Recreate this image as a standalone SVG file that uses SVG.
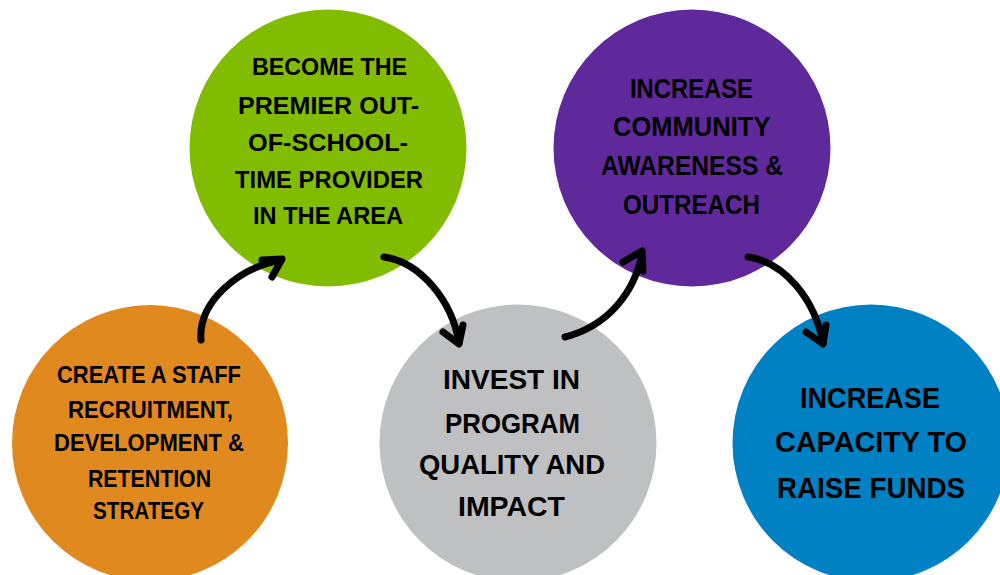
<svg xmlns="http://www.w3.org/2000/svg" width="1000" height="575" viewBox="0 0 1000 575">
<style>
  .lbl { font-family: "Liberation Sans", Arial, sans-serif; font-weight: 700; fill: #000; text-anchor: start; }
  .conn { fill: none; stroke: #000; stroke-width: 7; stroke-linecap: round; stroke-linejoin: round; }
</style>
<rect width="1000" height="575" fill="#fff"/>
<g id="node-staff">
  <circle cx="150" cy="443" r="138" fill="#E0891F"/>
  <text class="lbl" font-size="23">
    <tspan x="57" y="383" textLength="184" lengthAdjust="spacingAndGlyphs">CREATE A STAFF</tspan>
    <tspan x="68" y="418" textLength="165" lengthAdjust="spacingAndGlyphs">RECRUITMENT,</tspan>
    <tspan x="54" y="451" textLength="190" lengthAdjust="spacingAndGlyphs">DEVELOPMENT &amp;</tspan>
    <tspan x="88" y="487" textLength="123" lengthAdjust="spacingAndGlyphs">RETENTION</tspan>
    <tspan x="93" y="519" textLength="111" lengthAdjust="spacingAndGlyphs">STRATEGY</tspan>
  </text>
</g>
<g id="node-premier">
  <circle cx="328" cy="148" r="138.5" fill="#82BC00"/>
  <text class="lbl" font-size="24">
    <tspan x="252" y="75" textLength="155" lengthAdjust="spacingAndGlyphs">BECOME THE</tspan>
    <tspan x="238" y="114" textLength="181" lengthAdjust="spacingAndGlyphs">PREMIER OUT-</tspan>
    <tspan x="248" y="151" textLength="160" lengthAdjust="spacingAndGlyphs">OF-SCHOOL-</tspan>
    <tspan x="235" y="188" textLength="188" lengthAdjust="spacingAndGlyphs">TIME PROVIDER</tspan>
    <tspan x="253" y="224" textLength="150" lengthAdjust="spacingAndGlyphs">IN THE AREA</tspan>
  </text>
</g>
<g id="node-quality">
  <circle cx="518" cy="443" r="138.5" fill="#BFC0C2"/>
  <text class="lbl" font-size="28">
    <tspan x="443" y="389" textLength="137" lengthAdjust="spacingAndGlyphs">INVEST IN</tspan>
    <tspan x="445" y="433" textLength="135" lengthAdjust="spacingAndGlyphs">PROGRAM</tspan>
    <tspan x="419" y="474" textLength="186" lengthAdjust="spacingAndGlyphs">QUALITY AND</tspan>
    <tspan x="458" y="516" textLength="107" lengthAdjust="spacingAndGlyphs">IMPACT</tspan>
  </text>
</g>
<g id="node-awareness">
  <circle cx="692" cy="148" r="138.5" fill="#5F299B"/>
  <text class="lbl" font-size="27">
    <tspan x="630" y="98" textLength="123" lengthAdjust="spacingAndGlyphs">INCREASE</tspan>
    <tspan x="613" y="136" textLength="157" lengthAdjust="spacingAndGlyphs">COMMUNITY</tspan>
    <tspan x="601" y="175" textLength="182" lengthAdjust="spacingAndGlyphs">AWARENESS &amp;</tspan>
    <tspan x="623" y="214" textLength="137" lengthAdjust="spacingAndGlyphs">OUTREACH</tspan>
  </text>
</g>
<g id="node-funds">
  <circle cx="871" cy="443" r="138.5" fill="#0081C4"/>
  <text class="lbl" font-size="29">
    <tspan x="800" y="408" textLength="140" lengthAdjust="spacingAndGlyphs">INCREASE</tspan>
    <tspan x="775" y="452" textLength="192" lengthAdjust="spacingAndGlyphs">CAPACITY TO</tspan>
    <tspan x="777" y="498" textLength="188" lengthAdjust="spacingAndGlyphs">RAISE FUNDS</tspan>
  </text>
</g>
<g id="connectors">
  <path class="conn" d="M201,340 C198,302 238,268 281,260"/>
  <path class="conn" d="M262,260 L282,259 L272,277"/>
  <path class="conn" d="M384,257 C420,262 452,300 459,343"/>
  <path class="conn" d="M443,332 L459,344 L463,325"/>
  <path class="conn" d="M565,337 C608,326 635,292 642,253"/>
  <path class="conn" d="M623,262 L642,251 L643,271"/>
  <path class="conn" d="M748,257 C785,262 815,300 823,343"/>
  <path class="conn" d="M806,332 L823,344 L826,325"/>
</g>
</svg>
